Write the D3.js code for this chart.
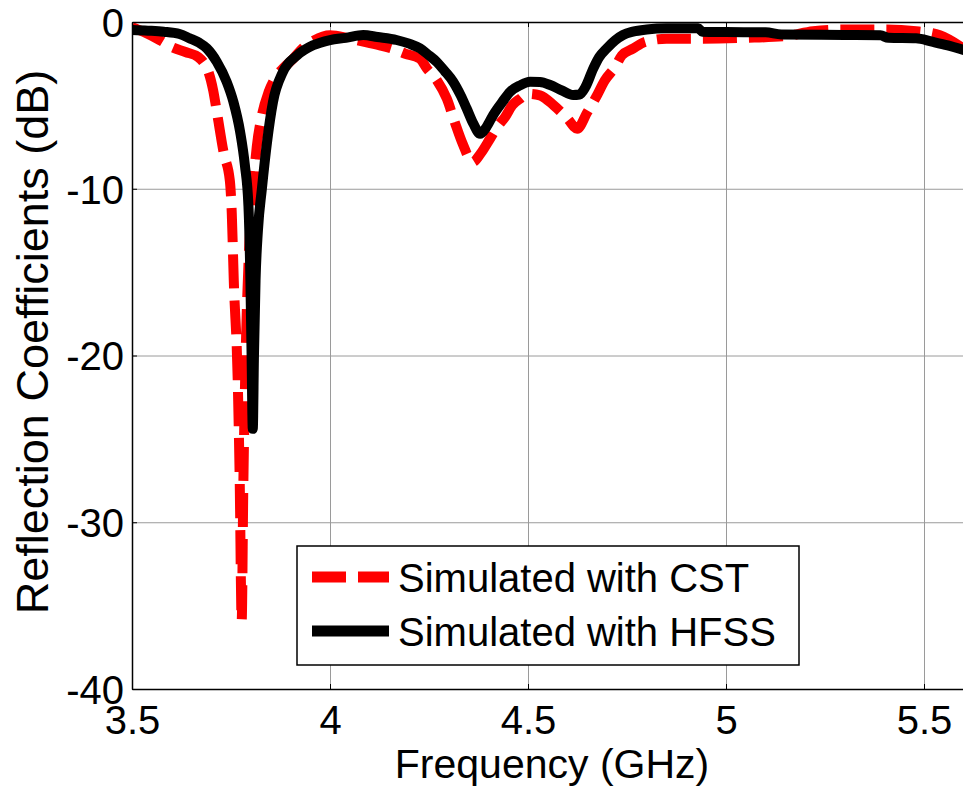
<!DOCTYPE html>
<html>
<head>
<meta charset="utf-8">
<script src="https://cdn.jsdelivr.net/npm/d3@7"></script>
<style>
  body { margin: 0; background: #fff; }
  svg { display: block; font-family: "Liberation Sans", Arial, sans-serif; }
</style>
</head>
<body>
<svg id="chart" width="963" height="796"></svg>
<script>
// values
var cstFreq = [3.50,3.53,3.571,3.60,3.635,3.667,3.68,3.69,3.705,3.715,3.732,3.747,3.752,3.757,3.767,3.772,3.777,3.781,3.787,3.795,3.805,3.815,3.828,3.845,3.866,3.885,3.907,3.93,3.96,4.00,4.05,4.09,4.126,4.157,4.19,4.227,4.245,4.27,4.295,4.315,4.335,4.36,4.38,4.404,4.425,4.442,4.46,4.48,4.50,4.53,4.565,4.60,4.624,4.65,4.672,4.694,4.72,4.737,4.765,4.795,4.85,4.93,5.05,5.15,5.22,5.30,5.40,5.48,5.54,5.60];
var cstDb = [-0.3,-0.6,-1.1,-1.5,-1.8,-2.1,-2.4,-2.8,-4.1,-5.5,-7.9,-9.5,-11.5,-15.5,-21.5,-27.5,-35.9,-28,-20,-14,-10.2,-7.5,-5.6,-4.2,-3.2,-2.7,-2.2,-1.6,-1.1,-0.8,-1.0,-1.2,-1.4,-1.6,-1.9,-2.2,-2.8,-3.5,-4.6,-6.0,-7.3,-8.4,-7.9,-7.0,-6.2,-5.7,-5.0,-4.6,-4.3,-4.4,-5.0,-5.8,-6.4,-5.4,-4.5,-3.5,-2.7,-2.0,-1.6,-1.2,-1.0,-1.0,-0.95,-0.85,-0.55,-0.45,-0.45,-0.55,-0.8,-1.6];

var hfssFreq = [3.50,3.54,3.58,3.62,3.646,3.67,3.689,3.714,3.739,3.756,3.773,3.785,3.794,3.799,3.802,3.805,3.808,3.812,3.818,3.828,3.841,3.856,3.881,3.917,3.957,4.00,4.04,4.084,4.12,4.168,4.20,4.227,4.25,4.269,4.29,4.311,4.33,4.345,4.362,4.379,4.395,4.412,4.435,4.455,4.48,4.505,4.53,4.556,4.585,4.614,4.63,4.645,4.665,4.68,4.699,4.72,4.74,4.765,4.80,4.85,4.93,4.94,5.00,5.10,5.14,5.30,5.39,5.41,5.48,5.52,5.56,5.60];
var hfssDb = [-0.48,-0.52,-0.58,-0.72,-0.98,-1.25,-1.58,-2.38,-3.58,-4.78,-6.58,-8.58,-11,-15.5,-20,-24.4,-20,-15.5,-12.5,-10,-7.2,-4.8,-3.0,-2.0,-1.4,-1.08,-0.95,-0.78,-0.9,-1.08,-1.3,-1.58,-2.0,-2.38,-2.95,-3.58,-4.4,-5.18,-6.1,-6.7,-6.3,-5.58,-4.8,-4.18,-3.8,-3.58,-3.6,-3.78,-4.1,-4.38,-4.35,-3.9,-2.78,-2.1,-1.58,-1.1,-0.78,-0.58,-0.45,-0.38,-0.38,-0.58,-0.6,-0.62,-0.75,-0.78,-0.8,-0.95,-0.98,-1.18,-1.4,-1.68];

var xTicks = [3.5, 4, 4.5, 5, 5.5];
var xTickLabels = ["3.5", "4", "4.5", "5", "5.5"];
var yTicks = [-40, -30, -20, -10, 0];
var yTickLabels = ["-40", "-30", "-20", "-10", "0"];
var seriesNames = ["Simulated with CST", "Simulated with HFSS"];

var svg = d3.select("#chart");
// plot box (window.top is read-only, so no bare "top" here)
var pL = 132, pT = 22, pR = 963.6, pB = 689;

var x = d3.scaleLinear().domain([3.5, 5.6]).range([pL, pR]);
var y = d3.scaleLinear().domain([-40, 0]).range([pB, pT]);

// grid
svg.append("g").attr("transform", "translate(0," + pB + ")")
  .call(d3.axisBottom(x).tickValues(xTicks).tickSize(-(pB - pT)).tickFormat(""))
  .call(function(g) {
    g.select(".domain").remove();
    g.selectAll("line").attr("stroke", "#9a9a9a").attr("stroke-width", 1);
  });
svg.append("g").attr("transform", "translate(" + pL + ",0)")
  .call(d3.axisLeft(y).tickValues(yTicks).tickSize(-(pR - pL)).tickFormat(""))
  .call(function(g) {
    g.select(".domain").remove();
    g.selectAll("line").attr("stroke", "#9a9a9a").attr("stroke-width", 1);
  });

// curves
svg.append("clipPath").attr("id", "clip").append("rect")
  .attr("x", pL).attr("y", pT).attr("width", pR - pL).attr("height", pB - pT);

var line = d3.line()
  .x(function(d) { return x(d[0]); })
  .y(function(d) { return y(d[1]); })
  .curve(d3.curveMonotoneX);

var cst = cstFreq.map(function(f, i) { return [f, cstDb[i]]; });
var hfss = hfssFreq.map(function(f, i) { return [f, hfssDb[i]]; });

var plot = svg.append("g").attr("clip-path", "url(#clip)");
plot.append("path").datum(cst).attr("d", line)
  .attr("fill", "none").attr("stroke", "#ff0000").attr("stroke-width", 10)
  .attr("stroke-dasharray", "34,12").attr("stroke-linejoin", "round");
plot.append("path").datum(hfss).attr("d", line)
  .attr("fill", "none").attr("stroke", "#000").attr("stroke-width", 10)
  .attr("stroke-linejoin", "round").attr("stroke-linecap", "round");

// axes
function styleAxis(g) {
  g.select(".domain").attr("stroke", "#000").attr("stroke-width", 1.5);
  g.selectAll(".tick line").attr("stroke", "#000").attr("stroke-width", 1);
  g.selectAll(".tick text").attr("font-size", 40).attr("fill", "#000")
    .attr("font-family", "Liberation Sans, Arial, sans-serif");
}
svg.append("g").attr("transform", "translate(0," + pB + ")")
  .call(d3.axisBottom(x).tickValues(xTicks).tickSizeInner(-5).tickSizeOuter(0).tickPadding(17)
    .tickFormat(function(d, i) { return xTickLabels[i]; }))
  .call(styleAxis);
svg.append("g").attr("transform", "translate(0," + pT + ")")
  .call(d3.axisTop(x).tickValues(xTicks).tickSizeInner(-5).tickSizeOuter(0).tickFormat(""))
  .call(styleAxis);
svg.append("g").attr("transform", "translate(" + pL + ",0)")
  .call(d3.axisLeft(y).tickValues(yTicks).tickSizeInner(-5).tickSizeOuter(0).tickPadding(8)
    .tickFormat(function(d, i) { return yTickLabels[i]; }))
  .call(styleAxis)
  .call(function(g) { g.selectAll(".tick text").attr("dy", "0.36em"); });

// axis titles
svg.append("text").attr("x", 552).attr("y", 778).attr("text-anchor", "middle")
  .attr("font-size", 41).text("Frequency (GHz)");
svg.append("text").attr("transform", "translate(48,342) rotate(-90)")
  .attr("text-anchor", "middle").attr("font-size", 45).text("Reflection Coefficients (dB)");

// legend
var lg = svg.append("g");
lg.append("rect").attr("x", 297).attr("y", 546).attr("width", 502).attr("height", 119)
  .attr("fill", "#fff").attr("stroke", "#000").attr("stroke-width", 1.5);
var legendRows = [
  { name: seriesNames[0], color: "#ff0000", dash: "34,12", ly: 577 },
  { name: seriesNames[1], color: "#000", dash: null, ly: 631 }
];
legendRows.forEach(function(r) {
  lg.append("line").attr("x1", 312).attr("x2", 389).attr("y1", r.ly).attr("y2", r.ly)
    .attr("stroke", r.color).attr("stroke-width", 11)
    .attr("stroke-dasharray", r.dash);
  lg.append("text").attr("x", 398).attr("y", r.ly + 15).attr("font-size", 40).text(r.name);
});
</script>
</body>
</html>
